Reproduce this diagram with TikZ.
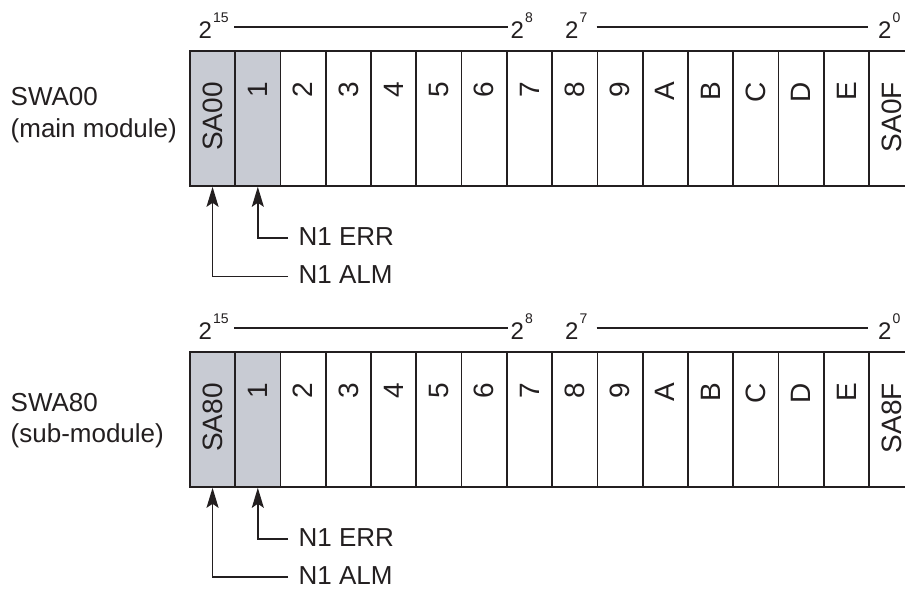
\documentclass[tikz,border=0pt]{standalone}
\usepackage{fontspec}
\setmainfont{Liberation Sans}
\usetikzlibrary{arrows.meta}
\definecolor{ink}{HTML}{231F20}
\definecolor{gfill}{HTML}{C8CBD3}
\newcommand\twopow[1]{2\kern1pt\raisebox{16pt}{\fontsize{14}{14}\selectfont #1}}
\begin{document}
\begin{tikzpicture}[x=1pt,y=-1pt,
  cell/.style={draw=ink, line width=1.8pt, minimum width=45.28pt, minimum height=135pt, inner sep=0pt, anchor=north west},
  bit/.style={text=ink, font=\fontsize{28}{28}\selectfont, inner sep=0pt, rotate=90, anchor=east},
  pw/.style={text=ink, font=\fontsize{24}{24}\selectfont, inner sep=0pt, anchor=base west},
  lbl/.style={text=ink, font=\fontsize{26}{30}\selectfont, inner sep=0pt, anchor=base west},
  sig/.style={text=ink, font=\fontsize{26}{26}\selectfont, inner xsep=10.5pt, inner ysep=0pt, anchor=west},
  arr/.style={draw=ink, line width=1.7pt, -{Stealth[length=20pt,width=12pt,inset=4pt]}},
  rule/.style={draw=ink, line width=1.7pt}]
\useasboundingbox (0,0) rectangle (905,592);
\clip (0,0) rectangle (905,592);
\fill[white] (0,0) rectangle (905,592);

% ---------- main module ----------
\foreach \t/\f [count=\i from 0] in {SA00/gfill,1/gfill,2/white,3/white,4/white,5/white,6/white,7/white,8/white,9/white,A/white,B/white,C/white,D/white,E/white,SA0F/white}{
  \node[cell, fill=\f] (a\i) at ({189+45.28*\i},50) {};
  \node[bit] (ta\i) at ([yshift=-32pt]a\i.north) {\t};
}
\node[pw] (pa15) at (198.5,38.5) {\twopow{15}};
\node[pw] (pa8) at (510.5,38.5) {\twopow{8}};
\node[pw] (pa7) at (565,38.5) {\twopow{7}};
\node[pw] (pa0) at (878,38.5) {\twopow{0}};
\draw[rule] ([yshift=23pt]a1.north west) -- ([yshift=23pt]a6.north east);
\draw[rule] ([yshift=23pt]a9.north west) -- ([yshift=23pt]a15.north west);

\node[lbl] (la1) at (10.5,105) {SWA00};
\node[lbl] (la2) at (10.5,137.5) {(main module)};

\node[sig] (erra) at (288,236.3) {N1 ERR};
\node[sig] (alma) at (288,274.6) {N1 ALM};
\draw[arr] ([yshift=-2pt]erra.west) -| (a1.south);
\draw[arr] ([yshift=-2pt]alma.west) -| (a0.south);

% ---------- sub-module ----------
\foreach \t/\f [count=\i from 0] in {SA80/gfill,1/gfill,2/white,3/white,4/white,5/white,6/white,7/white,8/white,9/white,A/white,B/white,C/white,D/white,E/white,SA8F/white}{
  \node[cell, fill=\f] (b\i) at ({189+45.28*\i},351) {};
  \node[bit] (tb\i) at ([yshift=-32pt]b\i.north) {\t};
}
\node[pw] (pb15) at (198.5,339.5) {\twopow{15}};
\node[pw] (pb8) at (510.5,339.5) {\twopow{8}};
\node[pw] (pb7) at (565,339.5) {\twopow{7}};
\node[pw] (pb0) at (878,339.5) {\twopow{0}};
\draw[rule] ([yshift=23pt]b1.north west) -- ([yshift=23pt]b6.north east);
\draw[rule] ([yshift=23pt]b9.north west) -- ([yshift=23pt]b15.north west);

\node[lbl] (lb1) at (10.5,411.5) {SWA80};
\node[lbl] (lb2) at (10.5,442.5) {(sub-module)};

\node[sig] (errb) at (288,537.3) {N1 ERR};
\node[sig] (almb) at (288,575.3) {N1 ALM};
\draw[arr] ([yshift=-2pt]errb.west) -| (b1.south);
\draw[arr] ([yshift=-2pt]almb.west) -| (b0.south);
\end{tikzpicture}
\end{document}
